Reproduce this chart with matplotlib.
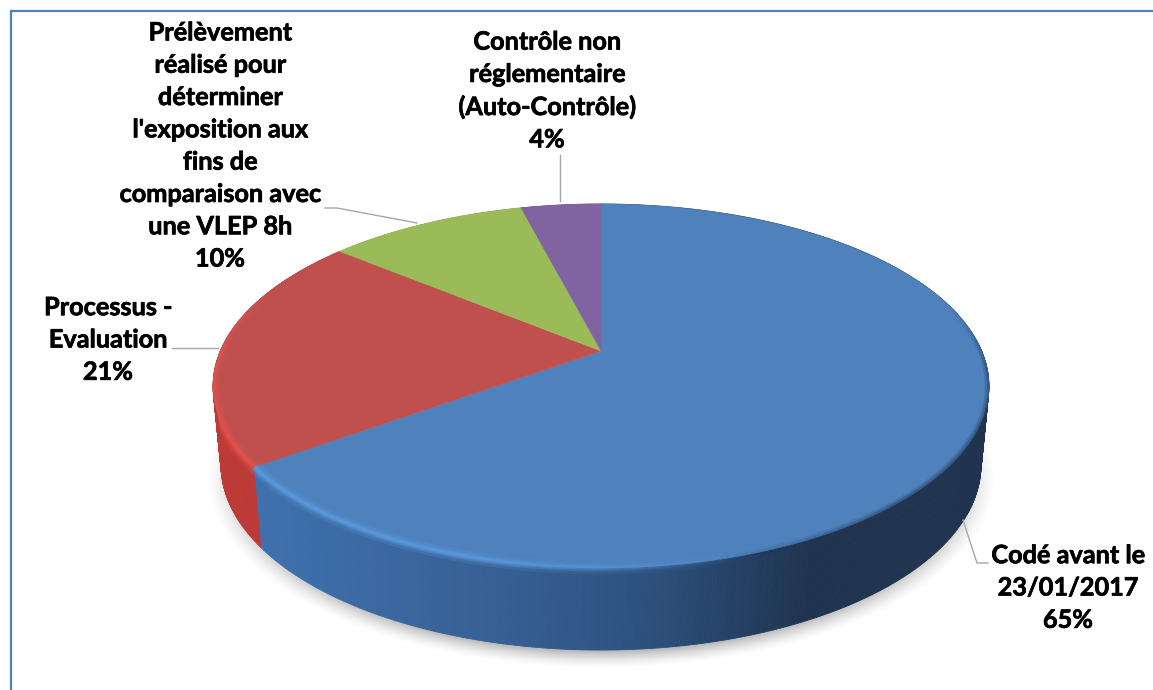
import numpy as np
import matplotlib
matplotlib.use('Agg')
import matplotlib.pyplot as plt
import matplotlib.patheffects as pe
from matplotlib.collections import LineCollection, PolyCollection
from matplotlib.colors import to_rgb
from matplotlib.patches import Polygon

# valeurs du camembert (sens horaire depuis le haut)
names = ['Codé avant le\n23/01/2017', 'Processus -\nEvaluation',
         "Prélèvement\nréalisé pour\ndéterminer\nl'exposition aux\nfins de\ncomparaison avec\nune VLEP 8h",
         'Contrôle non\nréglementaire\n(Auto-Contrôle)']
shares = [65, 21, 10, 4]
colors = ['#4f81bd', '#c0504d', '#9bbb59', '#8064a2']

# position des etiquettes en pixels (centre du bloc)
label_pos = [(1068, 588), (108, 340), (220, 146), (547, 91)]

# traits de rappel en pixels
leaders = [[(988, 563), (977, 563), (963, 520)],
           [(172, 348), (218, 348)],
           [(325, 208), (337, 208), (417, 223)],
           [(560, 155), (560, 201)]]


# perspective du disque : (u, v) unite -> pixels
def project(u, v):
    den = 1 + 0.1923 * v
    return 601 + 380.7 * u / den, (351 - 107.8 * v) / den


def rim(deg):
    a = np.radians(deg)
    return project(np.sin(a), np.cos(a))


def lower(x, y):
    return 601 + (x - 601) * 380 / 388, 465 + (y - 386) * 185 / 182


fig = plt.figure(figsize=(11.53, 6.9), dpi=100)
ax = fig.add_axes([0, 0, 1, 1])
ax.set_xlim(0, 1153)
ax.set_ylim(690, 0)
ax.axis('off')

# cadre : seulement haut et gauche visibles
ax.plot([10.5, 10.5, 1153], [690, 11, 11], color='#4f81bd', lw=1.6, solid_joinstyle='miter')

# ombre portee
yy, xx = np.mgrid[150:690, 180:1030]
d = np.sqrt(((xx - 601) / 395.0) ** 2 + ((yy - 477) / 191.0) ** 2)
shadow = np.zeros(d.shape + (4,))
shadow[..., :3] = 0.35
shadow[..., 3] = 0.42 * np.clip((1.0 - d) / 0.09, 0, 1) ** 1.5 * np.clip((yy - 390) / 60.0, 0, 1)
ax.imshow(shadow, extent=(180, 1030, 690, 150), interpolation='bilinear', zorder=1, aspect='auto')
ax.set_xlim(0, 1153)
ax.set_ylim(690, 0)

edges = np.cumsum([0] + shares) * 3.6

# flanc : degrade selon x
xs_ref = [210, 270, 500, 650, 720, 810, 1000]
side_blue = np.array([(64, 114, 176), (62, 112, 172), (55, 95, 148), (45, 80, 125),
                      (38, 68, 105), (32, 52, 80), (32, 52, 80)]) / 255.0
polys, cols = [], []
for i in range(len(shares)):
    angs = np.linspace(edges[i], edges[i + 1], int(shares[i] * 8) + 2)
    for a0, a1 in zip(angs[:-1], angs[1:]):
        x0, y0 = rim(a0)
        x1, y1 = rim(a1)
        bx0, by0 = lower(x0, y0)
        bx1, by1 = lower(x1, y1)
        polys.append([(x0, y0), (x1, y1), (bx1, by1), (bx0, by0)])
        xm = (x0 + x1) / 2
        if i == 0:
            c = [np.interp(xm, xs_ref, side_blue[:, k]) for k in range(3)]
        else:
            c = np.array(to_rgb(colors[i])) * 0.98 + np.array([0.0, -0.08, -0.08])
            c = np.clip(c, 0, 1)
        cols.append(c)
ax.add_collection(PolyCollection(polys, facecolors=cols, edgecolors=cols, linewidths=0.6, zorder=2))

# dessus du camembert
for i in range(len(shares)):
    angs = np.linspace(edges[i], edges[i + 1], int(shares[i] * 8) + 2)
    x, y = rim(angs)
    x0, y0 = project(0, 0)
    ax.fill(np.r_[x0, x], np.r_[y0, y], color=colors[i], lw=0.3, zorder=3)

# silhouette pour couper les reflets qui debordent
sil = np.linspace(0, 360, 721)
top_x, top_y = rim(sil)
low_x, low_y = lower(top_x, top_y)
front = (sil > 105) & (sil < 250)
bx_a, by_a = rim(sil[sil >= 250])
bx_b, by_b = rim(sil[sil <= 105])
outline = np.r_[np.column_stack([low_x[front], low_y[front]]),
                np.column_stack([bx_a, by_a]),
                np.column_stack([bx_b, by_b])]
clip_poly = Polygon(outline, closed=True, transform=ax.transData)

# biseau clair sur le bord avant
angs = np.linspace(130, 295, 420)
x, y = rim(angs)
pts = np.column_stack([x, y])
segs = np.stack([pts[:-1], pts[1:]], axis=1)
xm = (x[:-1] + x[1:]) / 2
for width, alpha in [(9, 0.22), (5, 0.4), (2.5, 0.6)]:
    seg_cols = []
    for xv, a in zip(xm, (angs[:-1] + angs[1:]) / 2):
        if a > edges[1]:
            base = (0.90, 0.33, 0.30)
            fade = np.clip((295 - a) / 30, 0, 1)
        else:
            base = (0.36, 0.62, 0.88)
            fade = np.clip((760 - xv) / 300, 0, 1)
        seg_cols.append(base + (alpha * fade,))
    lc = LineCollection(segs, colors=seg_cols, linewidths=width, zorder=4, capstyle='butt')
    ax.add_collection(lc)
    lc.set_clip_path(clip_poly)

# bord droit sombre et flou
angs = np.linspace(75, 165, 200)
x, y = rim(angs)
pts = np.column_stack([x, y])
segs = np.stack([pts[:-1], pts[1:]], axis=1)
for width, alpha in [(6, 0.2), (3, 0.35)]:
    seg_cols = [(0.13, 0.21, 0.32, alpha * np.clip((a - 75) / 20, 0, 1) * np.clip((165 - a) / 25, 0, 1))
                for a in (angs[:-1] + angs[1:]) / 2]
    lc = LineCollection(segs, colors=seg_cols, linewidths=width, zorder=4, capstyle='butt')
    ax.add_collection(lc)
    lc.set_clip_path(clip_poly)

# traits de rappel
for line in leaders:
    lx, ly = zip(*line)
    ax.plot(lx, ly, color='#a6a6a6', lw=1.0, zorder=5)

# etiquettes
for name, share, (tx, ty) in zip(names, shares, label_pos):
    ax.text(tx, ty, f'{name}\n{share}%', ha='center', va='center', family='Lato', weight='bold',
            fontsize=18.2, linespacing=1.49, color='black', zorder=6,
            path_effects=[pe.withStroke(linewidth=0.5, foreground='black')])

fig.savefig('out.png', dpi=100, facecolor='white')
